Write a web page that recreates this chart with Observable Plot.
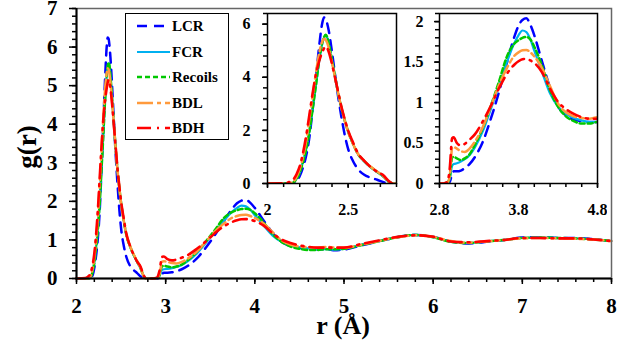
<!DOCTYPE html>
<html><head><meta charset="utf-8">
<script src="https://cdn.jsdelivr.net/npm/d3@7"></script>
<script src="https://cdn.jsdelivr.net/npm/@observablehq/plot@0.6"></script>
<style>
body{margin:0;background:#fff;}
#wrap{position:relative;width:624px;height:345px;overflow:hidden;font-family:"Liberation Serif","Times New Roman","DejaVu Serif",serif;font-weight:bold;color:#000;}
#wrap svg{position:absolute;}
#wrap svg text{font-family:"Liberation Serif","Times New Roman","DejaVu Serif",serif;font-weight:bold;}
.lbl{position:absolute;white-space:nowrap;line-height:1;}
#legend{position:absolute;left:125px;top:13px;width:104px;height:127px;border:1.5px solid #000;box-sizing:border-box;background:#fff;}
.row{position:absolute;left:0;height:16px;width:100%;}
.row svg{position:absolute;left:10px;top:0;}
.row span{position:absolute;left:46px;top:0;font-size:15px;line-height:16px;}
</style></head><body><div id="wrap"></div>
<script>
// r grid (Å)
const r = [2.0,2.1,2.15,2.18,2.2, 2.22,2.24,2.26,2.28,2.30, 2.32,2.34,2.35,2.36,2.37, 2.38,2.40,2.42,2.44,2.46,
  2.48,2.50,2.53,2.56,2.60, 2.64,2.68,2.72,2.75,2.78, 2.85,2.90,2.93,2.96,2.98, 3.02,3.07,3.12,3.18,3.25,
  3.35,3.45,3.55,3.65,3.75, 3.80,3.85,3.90,3.95,4.0, 4.1,4.2,4.3,4.4,4.5, 4.6,4.7,4.8,4.9,5.0,
  5.2,5.4,5.6,5.8,6.0, 6.2,6.4,6.6,6.8,7.0, 7.2,7.4,7.6,7.8,8.0];
const LCR = [0,0,0,0.08,0.28, 0.6,1.05,1.75,2.8,3.95, 5.15,6.05,6.25,6.22,6.03, 5.75,4.95,4.05,3.2,2.45,
  1.8,1.3,0.85,0.55,0.33, 0.22,0.14,0.05,0,0, 0,0,0.02,0.12,0.15, 0.15,0.16,0.19,0.24,0.33,
  0.52,0.8,1.12,1.48,1.82, 1.95,2.02,2.04,1.96,1.83, 1.5,1.18,0.95,0.84,0.79, 0.77,0.76,0.76,0.73,0.75,
  0.86,0.97,1.07,1.13,1.08, 0.96,0.91,0.95,1.0,1.06, 1.07,1.05,1.05,1.02,0.97];
const FCR = [0,0,0.01,0.18,0.42, 0.82,1.3,1.98,2.82,3.68, 4.58,5.28,5.48,5.58,5.5, 5.25,4.62,3.97,3.32,2.8,
  2.33,1.95,1.5,1.12,0.83, 0.61,0.43,0.25,0.07,0, 0,0.01,0.06,0.22,0.24, 0.25,0.27,0.3,0.35,0.45,
  0.65,0.92,1.2,1.49,1.74, 1.83,1.89,1.87,1.78,1.64, 1.37,1.11,0.95,0.86,0.81, 0.78,0.76,0.76,0.75,0.77,
  0.88,0.98,1.08,1.13,1.07, 0.96,0.92,0.96,1.0,1.05, 1.06,1.05,1.04,1.02,0.97];
const Recoils = [0,0,0.01,0.17,0.4, 0.8,1.28,1.95,2.8,3.68, 4.6,5.3,5.5,5.6,5.52, 5.27,4.65,4.0,3.35,2.82,
  2.36,1.96,1.5,1.12,0.84, 0.62,0.44,0.26,0.08,0, 0,0.01,0.08,0.32,0.33, 0.31,0.29,0.31,0.36,0.48,
  0.69,0.96,1.25,1.56,1.73, 1.77,1.8,1.81,1.78,1.69, 1.45,1.15,0.95,0.83,0.77, 0.74,0.74,0.76,0.76,0.77,
  0.87,0.97,1.07,1.13,1.07, 0.95,0.92,0.96,1.0,1.05, 1.06,1.05,1.04,1.01,0.97];
const BDL = [0,0,0.03,0.25,0.55, 1.0,1.6,2.45,3.3,4.15, 4.9,5.35,5.45,5.42,5.3, 5.1,4.55,3.95,3.35,2.8,
  2.35,1.95,1.5,1.13,0.85, 0.63,0.45,0.27,0.08,0, 0,0.01,0.1,0.44,0.45, 0.43,0.4,0.39,0.43,0.52,
  0.7,0.95,1.21,1.42,1.58, 1.62,1.645,1.65,1.62,1.57, 1.42,1.2,0.99,0.88,0.83, 0.81,0.8,0.82,0.8,0.8,
  0.88,0.98,1.07,1.12,1.08, 0.97,0.93,0.96,1.0,1.04, 1.05,1.04,1.03,1.01,0.97];
const BDH = [0,0.01,0.1,0.35,0.65, 1.15,1.8,2.6,3.4,4.1, 4.6,4.95,5.08,5.15,5.1, 4.95,4.5,3.95,3.4,2.85,
  2.4,2.0,1.55,1.15,0.85, 0.62,0.44,0.3,0.1,0, 0,0.02,0.19,0.56,0.57, 0.5,0.47,0.49,0.54,0.61,
  0.77,0.96,1.17,1.35,1.47, 1.51,1.535,1.54,1.52,1.49, 1.37,1.17,1.01,0.92,0.86, 0.82,0.8,0.8,0.8,0.8,
  0.9,0.99,1.08,1.12,1.08, 0.96,0.94,0.97,1.0,1.05, 1.05,1.04,1.04,1.01,0.97];

const seriesNames = ["LCR","FCR","Recoils","BDL","BDH"];
const seriesColors = ["#0000ff","#00b0f0","#00c800","#ff9a3c","#ff0000"];
const seriesDash = ["10,7", null, "5,3", "16,4,4,4", "14,6,2,6"];
const seriesWidth = [2.5, 2.2, 2.5, 2.5, 2.6];

const mainXTicks = [2,3,4,5,6,7,8];
const mainYTicks = [0,1,2,3,4,5,6,7];
const inset1XTicks = [2,2.5];
const inset1YTicks = [0,2,4,6];
const inset2XTicks = [2.8,3.8,4.8];
const inset2YTicks = [0,0.5,1,1.5,2];

const values = [LCR,FCR,Recoils,BDL,BDH];
const table = seriesNames.map((name,i) => r.map((x,j) => ({r:x, g:values[i][j], name})));

function lineMarks(clip){
  return table.map((data,i) => {
    const o = {x:"r", y:"g", stroke:seriesColors[i], strokeWidth:seriesWidth[i], curve:"monotone-x", clip};
    if (seriesDash[i]) o.strokeDasharray = seriesDash[i];
    return Plot.line(data, o);
  });
}
const blank = () => "";
const fmt = d3.format("~g");
const font = "'Liberation Serif','Times New Roman','DejaVu Serif',serif";
const wrap = document.getElementById("wrap");

const main = Plot.plot({
  width:624, height:345, marginLeft:76, marginRight:13, marginTop:8, marginBottom:67,
  x:{domain:[2,8]}, y:{domain:[0,7]},
  style:{fontFamily:font, fontWeight:"bold", fontSize:"21px", background:"transparent", color:"black"},
  marks:[
    ...lineMarks(false),
    Plot.frame({stroke:"#666", strokeWidth:1.5}),
    Plot.ruleX([2], {stroke:"black", strokeWidth:2}),
    Plot.ruleY([0], {stroke:"black", strokeWidth:2}),
    Plot.axisX({ticks:mainXTicks, tickFormat:fmt, tickSize:6, tickPadding:14, label:null, strokeWidth:1.5}),
    Plot.axisX({ticks:d3.range(2,8.001,0.2), tickSize:4, tickFormat:blank, label:null, strokeWidth:1.5}),
    Plot.axisY({ticks:mainYTicks, tickFormat:fmt, tickSize:7, tickPadding:12, label:null, strokeWidth:1.5}),
    Plot.axisY({ticks:d3.range(0,7.001,0.2), tickSize:4, tickFormat:blank, label:null, strokeWidth:1.5})
  ]
});
main.style.left = "0px"; main.style.top = "0px";
wrap.appendChild(main);

function inset(xd, yd, xt, yt, xm, ym, frameW, left, yPad){
  const p = Plot.plot({
    width:40+frameW+10, height:218, marginLeft:40, marginRight:10, marginTop:13, marginBottom:35,
    x:{domain:xd}, y:{domain:yd},
    style:{fontFamily:font, fontWeight:"bold", fontSize:"16px", background:"transparent", color:"black"},
    marks:[
      Plot.frame({fill:"white"}),
      ...lineMarks(true),
      Plot.frame({stroke:"black", strokeWidth:1.5}),
      Plot.axisX({ticks:xt, tickFormat:fmt, tickSize:5, tickPadding:15, label:null, strokeWidth:1.5}),
      Plot.axisX({ticks:xm, tickSize:4, tickFormat:blank, label:null, strokeWidth:1.5}),
      Plot.axisY({ticks:yt, tickFormat:fmt, tickSize:5, tickPadding:yPad, label:null, strokeWidth:1.5}),
      Plot.axisY({ticks:ym, tickSize:4, tickFormat:blank, label:null, strokeWidth:1.5})
    ]
  });
  p.style.left = (left-40)+"px"; p.style.top = "0px";
  wrap.appendChild(p);
}
inset([2,2.8],[0,6.4],inset1XTicks,inset1YTicks,d3.range(2,2.801,0.1),d3.range(0,6.401,0.4),129,267,12);
inset([2.8,4.8],[0,2.1],inset2XTicks,inset2YTicks,d3.range(2.8,4.801,0.2),d3.range(0,2.101,0.1),158,439,11);

// axis titles
const gl = document.createElement("div");
gl.className = "lbl"; gl.textContent = "g(r)";
gl.style.cssText += "left:27px;top:147px;font-size:27px;transform:translate(-50%,-50%) rotate(-90deg);";
wrap.appendChild(gl);
const rl = document.createElement("div");
rl.className = "lbl"; rl.textContent = "r (Å)";
rl.style.cssText += "left:343px;top:313px;font-size:26px;transform:translateX(-50%);";
wrap.appendChild(rl);

// legend
const legend = document.createElement("div");
legend.id = "legend";
seriesNames.forEach((name,i) => {
  const row = document.createElement("div");
  row.className = "row";
  row.style.top = (4 + i*25.5) + "px";
  const dash = seriesDash[i] ? `stroke-dasharray="${seriesDash[i]}"` : "";
  row.innerHTML = `<svg width="34" height="16"><line x1="1" y1="8" x2="34" y2="8" stroke="${seriesColors[i]}" stroke-width="${seriesWidth[i]}" ${dash}/></svg><span>${name}</span>`;
  legend.appendChild(row);
});
wrap.appendChild(legend);
</script>
</body></html>
